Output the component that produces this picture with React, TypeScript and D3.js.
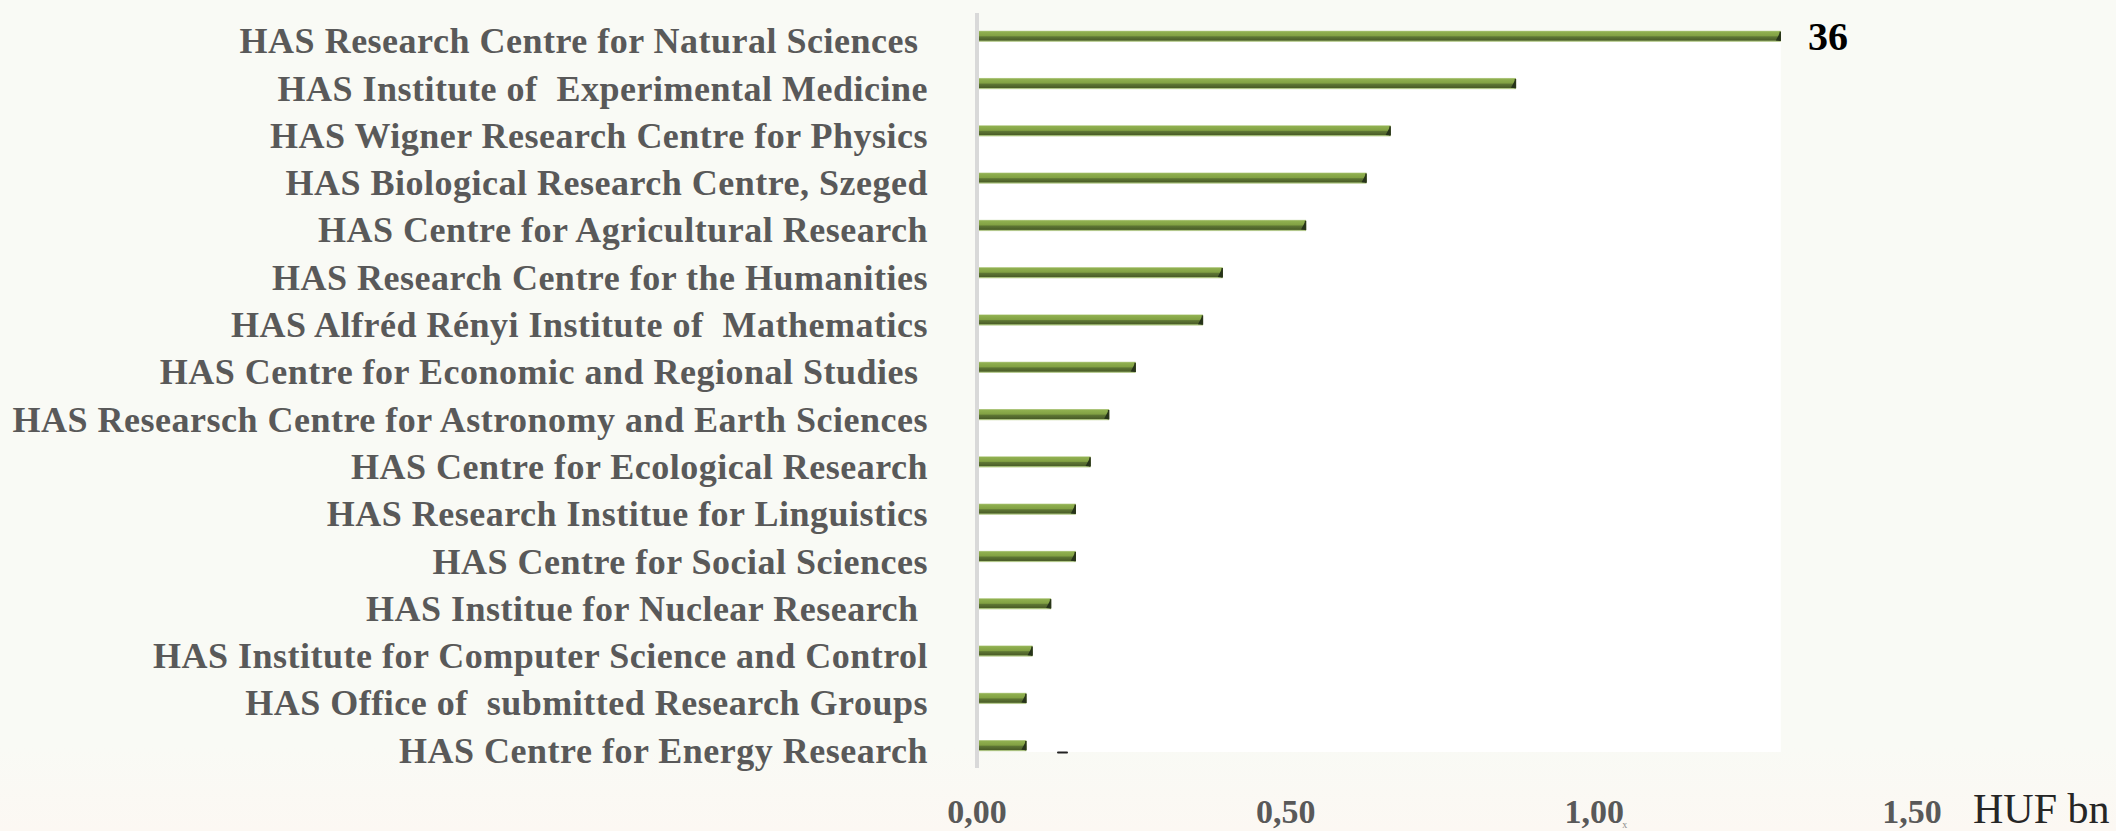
import React from "react";
import * as d3 from "d3";

const categories: string[] = [
  "HAS Research Centre for Natural Sciences ",
  "HAS Institute of  Experimental Medicine",
  "HAS Wigner Research Centre for Physics",
  "HAS Biological Research Centre, Szeged",
  "HAS Centre for Agricultural Research",
  "HAS Research Centre for the Humanities",
  "HAS Alfréd Rényi Institute of  Mathematics",
  "HAS Centre for Economic and Regional Studies ",
  "HAS Researsch Centre for Astronomy and Earth Sciences",
  "HAS Centre for Ecological Research",
  "HAS Research Institue for Linguistics",
  "HAS Centre for Social Sciences",
  "HAS Institue for Nuclear Research ",
  "HAS Institute for Computer Science and Control",
  "HAS Office of  submitted Research Groups",
  "HAS Centre for Energy Research",
];

const values: number[] = [
  1.302, 0.873, 0.67, 0.631, 0.533, 0.398, 0.366, 0.257, 0.214, 0.184, 0.16,
  0.16, 0.12, 0.09, 0.08, 0.08,
];

const tickValues: number[] = [0, 0.5, 1.0, 1.5];
const tickLabels: string[] = ["0,00", "0,50", "1,00", "1,50"];
const unitLabel = "HUF bn";
const topAnnotation = "36";

export default function App() {
  const W = 2116;
  const H = 831;
  const x = d3.scaleLinear().domain([0, 1.5]).range([977, 1903]);
  const y = d3.scalePoint<string>().domain(categories).range([36.3, 745.7]);
  const barH = 11.3;
  const x0 = x(0);
  const maxV = d3.max(values) as number;

  const serif = "'Liberation Serif', 'DejaVu Serif', serif";

  return (
    <svg
      width={W}
      height={H}
      style={{ position: "absolute", left: 0, top: 0, display: "block" }}
    >
      <defs>
        <linearGradient id="barGrad" x1="0" y1="0" x2="0" y2="1">
          <stop offset="0" stopColor="#c3d59c" />
          <stop offset="0.1" stopColor="#90b050" />
          <stop offset="0.45" stopColor="#82a143" />
          <stop offset="0.55" stopColor="#5e7634" />
          <stop offset="0.85" stopColor="#4b5e28" />
          <stop offset="0.9" stopColor="#9db770" />
          <stop offset="1" stopColor="#cfdcb0" />
        </linearGradient>
        <linearGradient id="bgGrad" x1="0" y1="0" x2="0" y2="1">
          <stop offset="0" stopColor="#f9faf5" />
          <stop offset="0.9" stopColor="#f9faf5" />
          <stop offset="1" stopColor="#fcf8f3" />
        </linearGradient>
      </defs>
      <rect x={0} y={0} width={W} height={H} fill="url(#bgGrad)" />
      {/* plot area */}
      <rect
        x={x0 + 2}
        y={30}
        width={x(maxV) - x0 - 2}
        height={722}
        fill="#ffffff"
      />
      {/* axis line */}
      <line x1={x0} x2={x0} y1={13} y2={768} stroke="#d9d9d9" strokeWidth={4} />

      {/* bars */}
      {categories.map((c, i) => {
        const cy = y(c) as number;
        const y0 = cy - barH / 2;
        const xe = x(values[i]);
        return (
          <g key={c}>
            <rect
              x={x0 + 2}
              y={y0}
              width={xe - x0 - 2}
              height={barH}
              fill="url(#barGrad)"
            />
            <polygon
              points={`${xe - 5},${y0 + barH - 1.5} ${xe - 0.5},${y0 + 1.5} ${xe - 0.5},${y0 + barH - 1}`}
              fill="#26331a"
            />
            <line
              x1={xe - 0.5}
              x2={xe - 0.5}
              y1={y0 + 1}
              y2={y0 + barH - 1}
              stroke="#2a3619"
              strokeWidth={1.5}
            />
          </g>
        );
      })}

      {/* category labels */}
      {categories.map((c) => (
        <text
          key={"l" + c}
          x={928}
          y={(y(c) as number) + 17}
          textAnchor="end"
          fontFamily={serif}
          fontWeight="bold"
          fontSize={36}
          letterSpacing={0.5}
          fill="#595959"
          style={{ whiteSpace: "pre" }}
        >
          {c}
        </text>
      ))}

      {/* tick labels */}
      {tickValues.map((t, i) => (
        <text
          key={"t" + t}
          x={x(t)}
          dx={i === tickValues.length - 1 ? 9 : 0}
          y={823}
          textAnchor="middle"
          fontFamily={serif}
          fontWeight="bold"
          fontSize={34}
          fill="#595959"
        >
          {tickLabels[i]}
        </text>
      ))}
      <text
        x={x(1.0) + 28}
        y={828}
        fontFamily={serif}
        fontSize={10}
        fill="#8c8c8c"
      >
        x
      </text>
      <text
        x={1973}
        y={823}
        fontFamily={serif}
        fontSize={42}
        fill="#262626"
      >
        {unitLabel}
      </text>

      {/* annotation */}
      <text
        x={1808}
        y={50}
        fontFamily={serif}
        fontWeight="bold"
        fontSize={40}
        fill="#000000"
      >
        {topAnnotation}
      </text>
      <rect x={1057} y={751.5} width={11} height={2} rx={1} fill="#222" />
    </svg>
  );
}
